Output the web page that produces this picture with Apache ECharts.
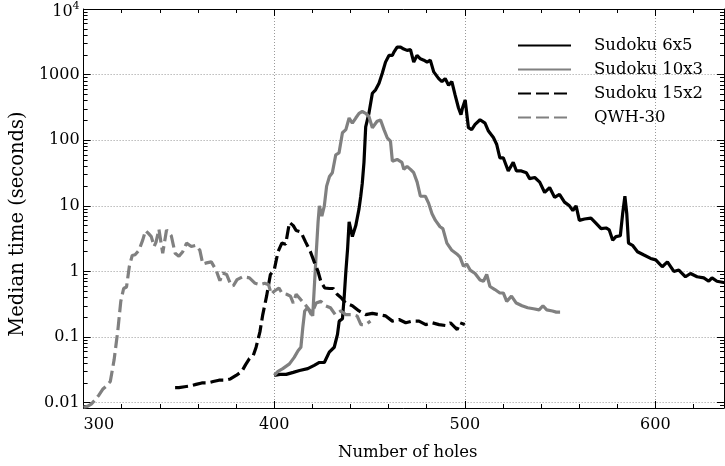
<!DOCTYPE html>
<html><head><meta charset="utf-8">
<script src="https://cdn.jsdelivr.net/npm/echarts@6/dist/echarts.min.js"></script>
<style>html,body{margin:0;padding:0;background:#fff}#c{width:725px;height:466px}</style>
</head><body><div id="c"></div>
<script>
const seriesNames = ['Sudoku 6x5', 'Sudoku 10x3', 'Sudoku 15x2', 'QWH-30'];

const sudoku6x5 = [[400,0.026],[403,0.027],[406.3,0.027],[410,0.029],[413.3,0.031],[417.6,0.033],[421,0.037],[423.7,0.041],[426.3,0.041],[428.9,0.059],[431.5,0.07],[433.2,0.11],[434.1,0.175],[435.8,0.19],[436.7,0.4],[437.6,1.0],[438.5,2.2],[439.3,5.7],[441,3.4],[442.8,5],[444.5,9],[445.4,14],[446.2,22],[447.1,46],[448,160],[449.7,257],[451.5,520],[453.2,587],[455,740],[456.7,1047],[458.4,1550],[460.2,1960],[462,1960],[462.8,2200],[464.5,2630],[466.3,2630],[468,2450],[469.7,2340],[471.5,2400],[473.2,1550],[474.9,1960],[476.7,1740],[478.5,1660],[480.2,1550],[481.9,1660],[483.7,1100],[486.3,870],[488,780],[489.7,870],[491.5,690],[493.2,780],[494.9,490],[496.7,310],[498,245],[498.8,310],[500.2,410],[501.9,155],[503.6,145],[505.4,174],[508,205],[510.6,182],[512.4,138],[515,110],[516.7,87],[518.4,54],[520.2,54],[522.8,34],[525.4,46],[527.1,34],[529.7,34],[532.3,32],[534,26],[536.7,27],[539.3,23],[541.9,16],[544.5,19],[547.1,13.5],[549.7,15],[552.3,11.4],[554.9,10],[556.7,8.5],[558.4,10],[560.1,6],[562.8,6.3],[566.2,6.5],[568.9,5.4],[571.5,4.5],[574.1,4.6],[575.8,4.3],[577.6,3],[579.3,3.4],[581.6,3.5],[582.8,7.5],[584,14],[585,7.5],[585.9,2.7],[588,2.5],[590.6,2],[594,1.78],[597.5,1.58],[600.2,1.5],[603.6,1.18],[606.3,1.4],[609.7,1],[612.3,1.05],[615.8,0.83],[618.4,0.93],[621.9,0.83],[625.4,0.8],[628,0.71],[629.7,0.8],[632.3,0.71],[635.8,0.68],[638,0.66]];

const sudoku10x3 = [[400,0.026],[402,0.03],[404.5,0.033],[408,0.039],[410.5,0.049],[412.5,0.062],[414,0.07],[415,0.14],[416,0.25],[417.5,0.28],[419,0.25],[420.2,0.21],[421,0.55],[422,1.8],[423,5.6],[423.7,10],[425,7],[426.3,10],[427.5,20],[429,28],[430.5,32],[432.3,60],[434,64],[435.8,130],[437.6,145],[439.3,218],[441,182],[442.8,218],[444.5,257],[446.2,274],[448,257],[449.7,230],[451.5,155],[454,195],[455.8,204],[457.6,145],[459.3,109],[461,97],[462,48],[464.5,51],[467,46],[468,36],[469.7,40],[471.5,36],[473.2,32],[475,23],[476.7,14],[479.3,14],[481,11],[482.8,7.6],[484.6,6],[487,4.8],[488.5,4.5],[490.6,2.7],[493.2,2.1],[495.8,1.85],[497.5,1.65],[499.3,1.2],[501,1.3],[502.8,1.05],[505.4,0.93],[508,0.74],[509.8,0.71],[511.5,0.9],[513.2,0.59],[515.8,0.53],[518.4,0.47],[520.2,0.47],[522,0.35],[524.5,0.42],[527,0.33],[530,0.3],[533,0.28],[536,0.27],[539,0.26],[541,0.3],[543,0.26],[546,0.25],[548,0.24],[550,0.24]];

const sudoku15x2 = [[348,0.017],[350,0.017],[353,0.0175],[356,0.018],[359,0.019],[362,0.02],[365,0.02],[368,0.021],[371,0.022],[374,0.022],[377,0.023],[380,0.026],[383,0.03],[385,0.038],[387,0.047],[389,0.052],[390.5,0.07],[392.5,0.12],[394,0.22],[396,0.42],[398,0.9],[400,1.05],[402,2.0],[404,2.7],[406,2.6],[408,5.6],[410,5.0],[411.5,4.2],[414,4.0],[416.5,2.8],[419,2.0],[421,1.4],[423,1.0],[424.5,0.7],[426.5,0.56],[429,0.55],[431,0.55],[433,0.45],[435,0.4],[437.5,0.33],[441,0.3],[444.5,0.25],[448,0.22],[451.5,0.23],[455,0.22],[458.5,0.21],[462,0.175],[465.5,0.185],[469,0.165],[472.5,0.175],[476,0.175],[479.5,0.155],[483,0.165],[486.5,0.155],[490,0.15],[492.5,0.165],[496,0.13],[497.5,0.165],[500,0.155]];

const qwh30 = [[300,0.0085],[302,0.0088],[304,0.0095],[306,0.011],[308,0.013],[310,0.016],[312,0.018],[314,0.021],[316,0.045],[318,0.13],[319.5,0.35],[321,0.55],[322.5,0.58],[324,1.2],[325.5,1.75],[327,1.8],[329,2.1],[331,3.0],[332.5,4.2],[334,3.8],[335.5,3.4],[337,2.4],[338,2.8],[339.5,4.4],[341.5,1.9],[343.5,4.3],[346,3.5],[348,1.9],[350,1.7],[352,2.0],[354,2.7],[356.5,2.4],[359,2.5],[361,2.1],[362.5,1.3],[364.5,1.35],[367,1.4],[369.5,1.05],[371.5,0.72],[373,0.95],[375,0.9],[377,0.65],[378.5,0.6],[380.5,0.75],[383.5,0.83],[387,0.8],[390,0.66],[392.5,0.63],[395,0.66],[397,0.63],[398.5,0.45],[400,0.5],[402.5,0.56],[404,0.47],[406.5,0.45],[408.5,0.42],[410,0.33],[411.5,0.45],[414,0.37],[416,0.32],[417.5,0.28],[419.5,0.22],[422,0.33],[424.5,0.35],[427,0.3],[429.5,0.28],[432,0.22],[435,0.25],[437.5,0.22],[441,0.22],[443.5,0.21],[445.5,0.155],[448,0.155],[450.5,0.175]];

const xTicks = [300, 400, 500, 600];
const xMinorTicks = [320, 340, 360, 380, 420, 440, 460, 480, 520, 540, 560, 580, 620];
const yTicks = [0.01, 0.1, 1, 10, 100, 1000, 10000];
const yTickLabels = ['0.01', '0.1', '1', '10', '100', '1000', '{b|10}{s|4}'];
const yMinorTicks = [0.009];
for (let e = -2; e <= 3; e++) for (let k = 2; k <= 9; k++) yMinorTicks.push(+(k * Math.pow(10, e)).toPrecision(3));

const FONT = 'DejaVu Serif';
const X_MIN = 300, X_MAX = 636, Y_MIN = 0.0083, Y_MAX = 10000;

function xAx(pos, major, labels) {
  return {
    type: 'value', position: pos, min: X_MIN, max: X_MAX,
    axisLine: { show: major, lineStyle: { color: '#000', width: 1 } },
    axisTick: { show: true, inside: true, length: major ? 7 : 4, customValues: major ? xTicks : xMinorTicks, lineStyle: { color: '#000', width: 1 } },
    axisLabel: labels ? { show: true, customValues: xTicks, color: '#000', fontFamily: FONT, fontSize: 16, margin: 9, alignMinLabel: 'left' } : { show: false },
    splitLine: { show: labels, lineStyle: { color: '#999', type: [1, 2], width: 1 } },
    name: labels ? 'Number of holes' : '',
    nameLocation: 'middle', nameGap: 36,
    nameTextStyle: { color: '#000', fontFamily: FONT, fontSize: 16.5, padding: [0, 0, 0, 8] }
  };
}
function yAx(pos, major, labels) {
  return {
    type: 'log', logBase: 10, position: pos, min: Y_MIN, max: Y_MAX,
    axisLine: { show: major, lineStyle: { color: '#000', width: 1 } },
    axisTick: { show: true, inside: true, length: major ? 7 : 4, customValues: major ? yTicks : yMinorTicks, lineStyle: { color: '#000', width: 1 } },
    axisLabel: labels ? {
      show: true, customValues: yTicks, color: '#000', fontFamily: FONT, fontSize: 16, margin: 4,
      formatter: v => yTickLabels[Math.round(Math.log10(v)) + 2],
      rich: { b: { fontFamily: FONT, fontSize: 16, color: '#000', padding: [6, 0, 0, 0] }, s: { fontFamily: FONT, fontSize: 11, color: '#000', padding: [0, 0, 6, 0] } }
    } : { show: false },
    splitLine: { show: labels, lineStyle: { color: '#999', type: [1, 2], width: 1 } },
    name: labels ? 'Median time (seconds)' : '',
    nameLocation: 'middle', nameGap: 53, nameRotate: 90,
    nameTextStyle: { color: '#000', fontFamily: FONT, fontSize: 19.5, padding: [0, 31, 0, 0] }
  };
}

const styles = [
  { color: '#000000', type: 'solid' },
  { color: '#808080', type: 'solid' },
  { color: '#000000', type: [13, 5] },
  { color: '#808080', type: [13, 5] }
];
const datasets = [sudoku6x5, sudoku10x3, sudoku15x2, qwh30];

const chart = echarts.init(document.getElementById('c'), null, { renderer: 'canvas' });
chart.setOption({
  animation: false,
  backgroundColor: '#fff',
  grid: { left: 80, right: 1, top: 9, bottom: 54 },
  xAxis: [xAx('bottom', true, true), xAx('top', true, false), xAx('bottom', false, false), xAx('top', false, false)],
  yAxis: [yAx('left', true, true), yAx('right', true, false), yAx('left', false, false), yAx('right', false, false)],
  legend: {
    show: true, orient: 'vertical', left: 517, top: 37, padding: 0, itemWidth: 53, itemHeight: 16, itemGap: 7,
    itemStyle: { opacity: 0 },
    textStyle: { fontFamily: FONT, fontSize: 16.5, color: '#000', padding: [0, 0, 0, 18], lineHeight: 16 },
    data: seriesNames
  },
  series: datasets.map((d, i) => ({
    name: seriesNames[i], type: 'line', data: d, xAxisIndex: 0, yAxisIndex: 0,
    symbol: 'none', clip: true,
    lineStyle: { color: styles[i].color, width: 3.2, type: styles[i].type },
    itemStyle: { color: styles[i].color }
  }))
});
</script></body></html>
